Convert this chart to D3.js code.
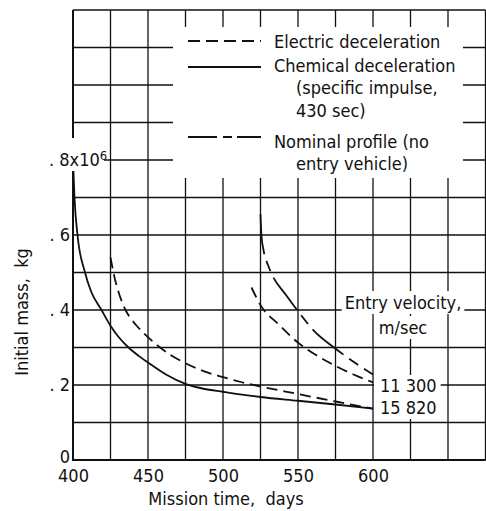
<!DOCTYPE html>
<html><head><meta charset="utf-8">
<script src="https://cdn.jsdelivr.net/npm/d3@7"></script>
<style>
body{margin:0;background:#fff}
svg{display:block}
text{font-family:"Liberation Sans Narrow","DejaVu Sans Condensed","Roboto Condensed",sans-serif;fill:#111}
</style>
</head><body>
<svg id="c" width="486" height="511"></svg>
<script>
// ---- data (mass in units of 10^6 kg, time in days) ----
const xTicks = [400, 450, 500, 550, 600];
const xTickLabels = ["400", "450", "500", "550", "600"];
const yTicks = [0, 0.2, 0.4, 0.6, 0.8];
const yTickLabels = ["0", ". 2", ". 4", ". 6", ". 8x10"];
const yTopExponent = "6";
const xGrid = [400, 425, 450, 475, 500, 525, 550, 575, 600, 625, 650, 675];
const yGrid = [0, 0.1, 0.2, 0.3, 0.4, 0.5, 0.6, 0.7, 0.8, 0.9, 1.0, 1.1, 1.2];

// Chemical deceleration, 15 820 m/sec (solid)
const chemLow = [[400.3,0.77],[401,0.70],[403,0.60],[408,0.50],[412,0.45],[419,0.40],[425,0.358],[430,0.33],[437,0.30],[444,0.277],[450,0.26],[462,0.228],[475,0.203],[487,0.19],[500,0.182],[525,0.168],[550,0.158],[575,0.148],[600,0.137]];
// Electric deceleration, 15 820 m/sec (dashed)
const elecLow = [[425,0.54],[427.5,0.49],[431,0.44],[435,0.40],[439,0.375],[442,0.36],[448,0.335],[455,0.31],[465,0.28],[475,0.258],[487,0.237],[500,0.221],[512,0.208],[525,0.196],[550,0.176],[575,0.156],[600,0.137]];
// Nominal-profile style curve, 11 300 m/sec (long-short dash)
const nomHigh = [[525,0.655],[525.6,0.60],[527,0.56],[530,0.52],[532,0.50],[542,0.44],[550,0.397],[561,0.343],[574,0.30],[587,0.262],[600,0.228]];
// Electric deceleration, 11 300 m/sec (dashed)
const elecHigh = [[519,0.46],[525,0.413],[537,0.362],[550,0.313],[562,0.280],[575,0.251],[587,0.228],[600,0.207]];

const legendItems = ["Electric deceleration", "Chemical deceleration", "Nominal profile (no"];
const legendExtra = ["(specific impulse,", "430 sec)", "entry vehicle)"];
const velocityTitle = ["Entry velocity,", "m/sec"];
const velocityLabels = ["11 300", "15 820"];

// ---- drawing ----
const svg = d3.select("#c");
const x = d3.scaleLinear().domain([400, 675]).range([73, 485.5]);
const y = d3.scaleLinear().domain([0, 1.2]).range([460, 10]);
const FS = 18;

const gridL = svg.append("g");
const knockL = svg.append("g");
const curveL = svg.append("g");
const textL = svg.append("g");

// grid
const g = gridL.append("g").attr("stroke", "#111").attr("stroke-width", 1.3);
g.selectAll("line.vx").data(xGrid).enter().append("line").attr("class", "vx")
  .attr("x1", d => x(d)).attr("x2", d => x(d)).attr("y1", y(0)).attr("y2", y(1.2));
g.selectAll("line.hy").data(yGrid).enter().append("line").attr("class", "hy")
  .attr("x1", x(400)).attr("x2", x(675)).attr("y1", d => y(d)).attr("y2", d => y(d));
gridL.append("line").attr("x1", x(400)).attr("x2", x(400)).attr("y1", y(0)+1).attr("y2", y(1.2)).attr("stroke", "#111").attr("stroke-width", 2);
gridL.append("line").attr("x1", x(400)-1).attr("x2", x(675)).attr("y1", y(0)).attr("y2", y(0)).attr("stroke", "#111").attr("stroke-width", 2.2);

// legend box (white knock-out)
knockL.append("rect").attr("x", 173).attr("y", 27).attr("width", 290).attr("height", 151).attr("fill", "#fff");
// knock-out behind the .8x10^6 label
knockL.append("rect").attr("x", 46).attr("y", 138).attr("width", 58).attr("height", 33).attr("fill", "#fff");

function textBox(sel, padL, padR, padT, padB) {
  const b = sel.node().getBBox();
  knockL.append("rect").attr("x", b.x - padL).attr("y", b.y - padT)
    .attr("width", b.width + padL + padR).attr("height", b.height + padT + padB).attr("fill", "#fff");
}

// axes (labels only)
const xAxis = d3.axisBottom(x).tickValues(xTicks).tickSize(0).tickPadding(0)
  .tickFormat((d, i) => xTickLabels[i]);
const xa = textL.append("g").attr("transform", "translate(0,469)").call(xAxis);
xa.select(".domain").remove();
xa.attr("font-family", null).attr("font-size", null);
xa.selectAll("text").attr("font-size", FS).attr("dy", "0.71em").attr("fill", "#111");

const yAxis = d3.axisLeft(y).tickValues(yTicks).tickSize(0).tickPadding(0)
  .tickFormat((d, i) => yTickLabels[i]);
const ya = textL.append("g").attr("transform", "translate(70,0)").call(yAxis);
ya.select(".domain").remove();
ya.attr("font-family", null).attr("font-size", null);
ya.selectAll("text").attr("font-size", FS).attr("dy", (d) => d === 0 ? "0.12em" : "0.3em").attr("fill", "#111");
const topLab = ya.selectAll("text").filter(d => d === 0.8);
topLab.attr("text-anchor", "start").attr("x", -21);
topLab.append("tspan").attr("dy", "-0.45em").attr("font-size", 13).text(yTopExponent);

// curves
const line = d3.line().x(d => x(d[0])).y(d => y(d[1])).curve(d3.curveMonotoneX);
const curves = curveL.append("g").attr("fill", "none").attr("stroke", "#111").attr("stroke-width", 1.8);
curves.append("path").attr("d", line(chemLow));
curves.append("path").attr("d", line(elecLow)).attr("stroke-dasharray", "11,6");
curves.append("path").attr("d", line(nomHigh)).attr("stroke-dasharray", "40,7,11,7");
curves.append("path").attr("d", line(elecHigh)).attr("stroke-dasharray", "11,6");

// legend
const sampleY = [41, 67, 137];
const sampleDash = ["12,6", null, "29,6,9,5"];
sampleY.forEach((sy, i) => {
  const l = curveL.append("line").attr("x1", 188).attr("x2", 261).attr("y1", sy).attr("y2", sy)
    .attr("stroke", "#111").attr("stroke-width", 1.8);
  if (sampleDash[i]) l.attr("stroke-dasharray", sampleDash[i]);
});
const legBase = [48, 72, 148];
legendItems.forEach((t, i) => textL.append("text").attr("x", 274).attr("y", legBase[i]).attr("font-size", FS).text(t));
const extraBase = [94, 117, 170];
legendExtra.forEach((t, i) => textL.append("text").attr("x", 296).attr("y", extraBase[i]).attr("font-size", FS).text(t));

// entry velocity labels
const vb = [309, 334];
velocityTitle.forEach((t, i) => {
  const tx = textL.append("text").attr("x", 403).attr("y", vb[i]).attr("text-anchor", "middle").attr("font-size", FS).text(t);
  textBox(tx, 3, 3, 1, 1);
});
const lb = [392, 414];
velocityLabels.forEach((t, i) => {
  const tx = textL.append("text").attr("x", 380).attr("y", lb[i]).attr("font-size", FS).text(t);
  textBox(tx, 6, 4, 0, 1);
});

// axis titles
textL.append("text").attr("x", 226).attr("y", 505).attr("text-anchor", "middle").attr("font-size", FS)
  .style("white-space", "pre").text("Mission time,  days");
textL.append("text").attr("transform", "translate(28,312) rotate(-90)").attr("text-anchor", "middle")
  .attr("font-size", FS).style("white-space", "pre").text("Initial mass,  kg");
</script>
</body></html>
